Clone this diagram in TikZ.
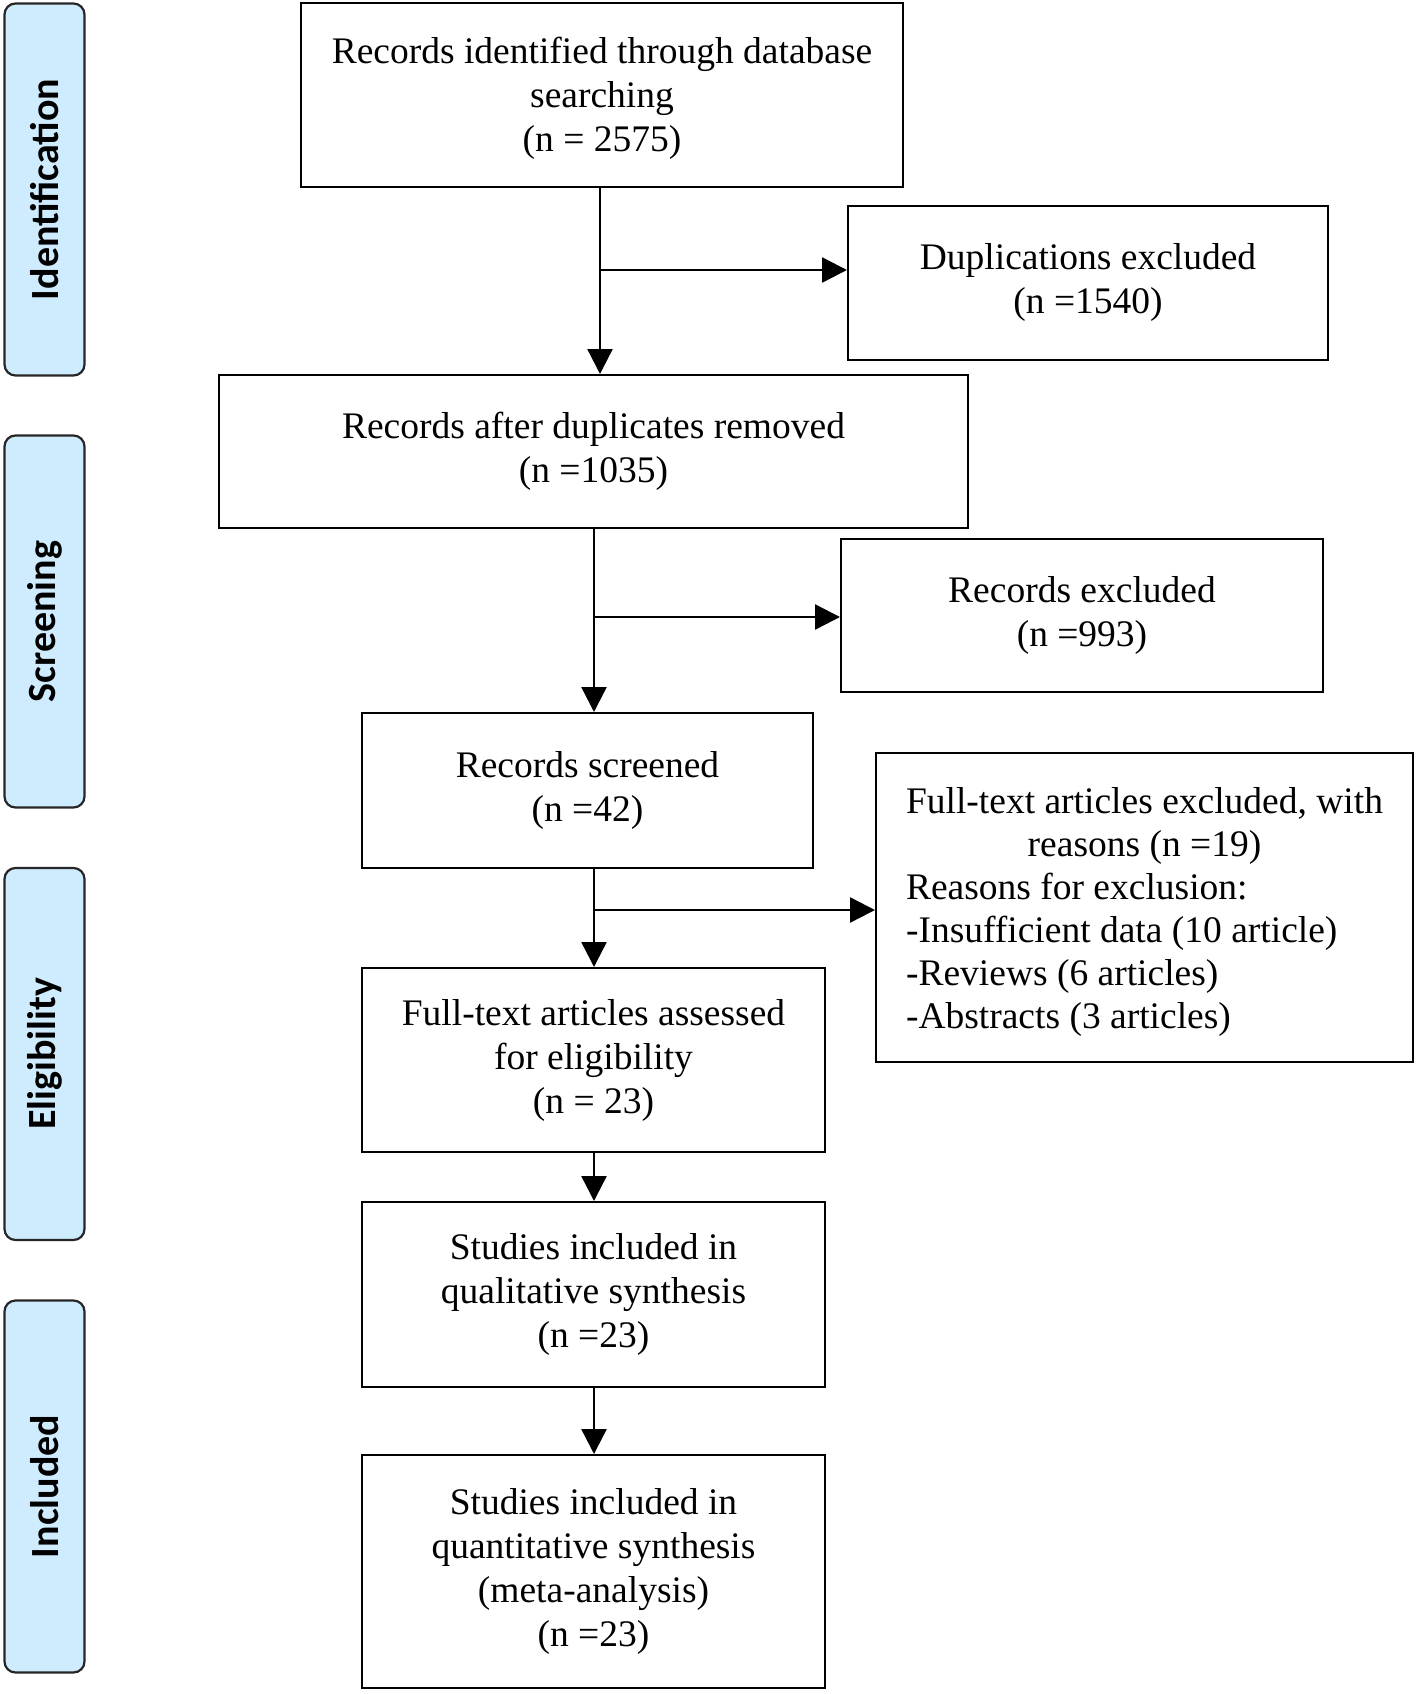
\documentclass[tikz,border=0pt]{standalone}
\usepackage{fontspec}
\setmainfont{Liberation Serif}
\newfontfamily\sidefont{Carlito}
\usetikzlibrary{arrows.meta}
\definecolor{sidefill}{RGB}{207,236,255}
\begin{document}
\begin{tikzpicture}[x=1pt,y=-1pt,
  box/.style={draw=black, line width=2pt, fill=white, align=center, inner sep=0pt,
    font=\fontsize{37.5}{44}\selectfont},
  side/.style={draw=black!85, line width=2.2pt, fill=sidefill, rounded corners=11pt,
    minimum width=80pt, minimum height=372pt, inner sep=0pt},
  sidelabel/.style={rotate=90, font=\sidefont\bfseries\fontsize{40}{44}\selectfont},
  arr/.style={line width=2.4pt, -{Triangle[length=25pt,width=25pt]}},
  ln/.style={line width=2.4pt}]
\useasboundingbox (0,0) rectangle (1418,1694);

% phase labels
\node[side] (sid) at (44.5,189.5) {};
\node[sidelabel] (sidt) at (sid.center) {Identification};
\node[side] (sscr) at (44.5,621.5) {};
\node[sidelabel] (sscrt) at (sscr.center) {Screening};
\node[side] (sel) at (44.5,1054) {};
\node[sidelabel] (selt) at (sel.center) {Eligibility};
\node[side] (sinc) at (44.5,1486.5) {};
\node[sidelabel] (sinct) at (sinc.center) {Included};

% boxes
\node[box, minimum width=602pt, minimum height=184pt] (b1) at (602,95)
  {\raisebox{-4pt}[\height][\depth]{\begin{tabular}{@{}c@{}}Records identified through database\\searching\\(n = 2575)\end{tabular}}};
\node[box, minimum width=480pt, minimum height=154pt] (dup) at (1088,282.5)
  {Duplications excluded\\(n =1540)};
\node[box, minimum width=749pt, minimum height=153pt] (b2) at (593.5,451.5)
  {Records after duplicates removed\\(n =1035)};
\node[box, minimum width=482pt, minimum height=153pt] (rex) at (1082,615.5)
  {Records excluded\\(n =993)};
\node[box, minimum width=451pt, minimum height=155pt] (scr) at (587.5,790.5)
  {Records screened\\(n =42)};
\node[box, minimum width=537pt, minimum height=309pt] (fex) at (1144.5,907.5)
  {\fontsize{37.5}{43}\selectfont\raisebox{-5pt}[\height][\depth]{\begin{tabular}{@{}l@{}}Full-text articles excluded, with\\
   \multicolumn{1}{@{}c@{}}{reasons (n =19)}\\
   Reasons for exclusion:\\
   -Insufficient data (10 article)\\
   -Reviews (6 articles)\\
   -Abstracts (3 articles)\end{tabular}}};
\node[box, minimum width=463pt, minimum height=184pt] (ass) at (593.5,1060)
  {Full-text articles assessed\\for eligibility\\(n = 23)};
\node[box, minimum width=463pt, minimum height=185pt] (qual) at (593.5,1294.5)
  {Studies included in\\qualitative synthesis\\(n =23)};
\node[box, minimum width=463pt, minimum height=233pt] (quant) at (593.5,1571.5)
  {Studies included in\\quantitative synthesis\\(meta-analysis)\\(n =23)};

% connectors
\coordinate (t1) at (600,0);
\coordinate (j1) at (600,270);
\draw[arr] (t1 |- b1.south) -- (t1 |- b2.north);
\draw[arr] (j1) -- (j1 -| dup.west);

\coordinate (j2) at (594,617);
\draw[arr] (j2 |- b2.south) -- (j2 |- scr.north);
\draw[arr] (j2) -- (j2 -| rex.west);

\coordinate (j3) at (594,910);
\draw[arr] (j3 |- scr.south) -- (j3 |- ass.north);
\draw[arr] (j3) -- (j3 -| fex.west);

\draw[arr] (j3 |- ass.south) -- (j3 |- qual.north);
\draw[arr] (j3 |- qual.south) -- (j3 |- quant.north);
\end{tikzpicture}
\end{document}
